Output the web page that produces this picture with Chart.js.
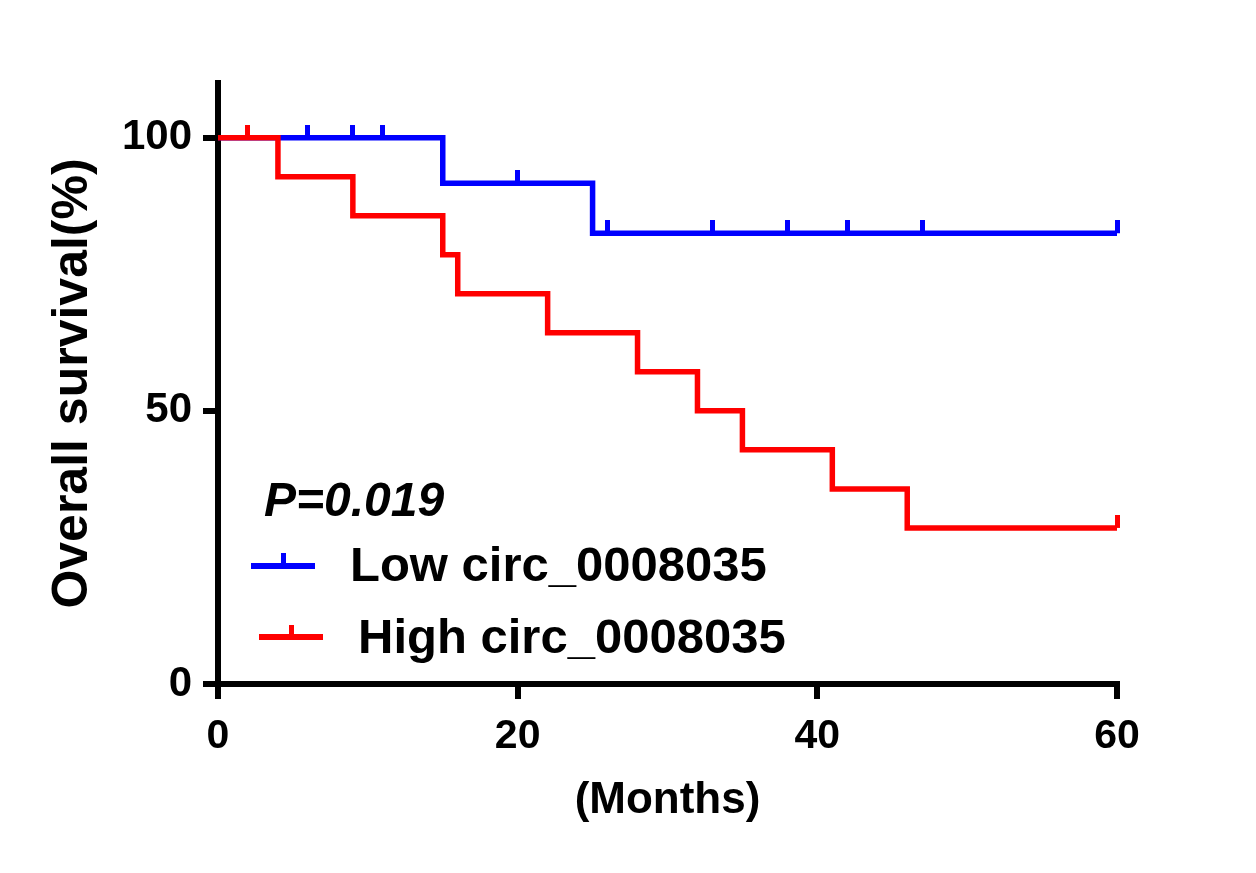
<!DOCTYPE html>
<html>
<head>
<meta charset="utf-8">
<script src="https://cdn.jsdelivr.net/npm/chart.js@4.4.0/dist/chart.umd.min.js"></script>
<style>
html,body{margin:0;padding:0;background:#fff;}
#wrap{position:relative;width:1256px;height:873px;}
.txt{position:absolute;white-space:nowrap;line-height:1;color:#000;
     font-family:"Liberation Sans",Arial,sans-serif;font-weight:bold;}
.sym{position:absolute;}
</style>
</head>
<body>
<div id="wrap">
  <canvas id="myChart" width="1256" height="873"></canvas>
  <div class="txt" id="pval" style="left:264px;top:476px;font-size:48px;font-style:italic;">P=0.019</div>
  <div class="sym" style="left:251px;top:563px;width:64px;height:6px;background:#0000ff;"></div>
  <div class="sym" style="left:281px;top:553px;width:5px;height:12px;background:#0000ff;"></div>
  <div class="txt" id="lowLab" style="left:350px;top:540px;font-size:49px;">Low circ_0008035</div>
  <div class="sym" style="left:259px;top:634px;width:64px;height:6px;background:#ff0000;"></div>
  <div class="sym" style="left:289px;top:625px;width:5px;height:12px;background:#ff0000;"></div>
  <div class="txt" id="highLab" style="left:358px;top:612px;font-size:49px;">High circ_0008035</div>
</div>
<script>
// KM curves (months, % surviving)
const lowTimes=[0,15,25,60]
const lowSurv=[100,91.67,82.5,82.5]
const lowCensor=[6,9,11,20,26,33,38,42,47,60]

const highTimes=[0,4,9,15,16,22,28,32,35,41,46,60]
const highSurv=[100,92.86,85.71,78.57,71.43,64.29,57.14,50,42.86,35.71,28.57,28.57]
const highCensor=[2,60]

const xTicks=[0,20,40,60]
const yTicks=[0,50,100]

const BLUE='#0000ff', RED='#ff0000'
const FONT='"Liberation Sans", Arial, sans-serif'

function survAt(times,surv,t){
    let v=surv[0]
    for(let i=0;i<times.length;i++){
        if(times[i]<=t) v=surv[i]
    }
    return v
}
// little tick used as the censor mark, sitting on top of the curve
function censorMark(color){
    let c=document.createElement('canvas')
    c.width=5; c.height=26
    let g=c.getContext('2d')
    g.fillStyle=color
    g.fillRect(0,0,5,13)
    return c
}
function pts(xs,ys){ return xs.map((x,i)=>({x:x,y:ys[i]})) }

Chart.defaults.font.family=FONT
Chart.defaults.color='#000'

const axisGrid={display:true,drawOnChartArea:false,drawTicks:true,tickLength:15,tickWidth:6,tickColor:'#000',color:'#000',lineWidth:6}
const axisBorder={display:true,color:'#000',width:6}

new Chart(document.getElementById('myChart').getContext('2d'),{
    type:'line',
    data:{
        datasets:[
            {label:'High censor',data:highCensor.map(t=>({x:t,y:survAt(highTimes,highSurv,t)})),
             showLine:false,pointStyle:censorMark(RED),pointRadius:6,order:0,clip:false},
            {label:'Low censor',data:lowCensor.map(t=>({x:t,y:survAt(lowTimes,lowSurv,t)})),
             showLine:false,pointStyle:censorMark(BLUE),pointRadius:6,order:0,clip:false},
            {label:'High circ_0008035',data:pts(highTimes,highSurv),stepped:'before',
             borderColor:RED,borderWidth:5.5,pointRadius:0,borderJoinStyle:'miter',fill:false,order:1,clip:false},
            {label:'Low circ_0008035',data:pts(lowTimes,lowSurv),stepped:'before',
             borderColor:BLUE,borderWidth:5.5,pointRadius:0,borderJoinStyle:'miter',fill:false,order:2,clip:false}
        ]
    },
    options:{
        responsive:false,
        animation:false,
        devicePixelRatio:1,
        layout:{padding:{top:83,right:139,bottom:0,left:0}},
        plugins:{legend:{display:false},tooltip:{enabled:false}},
        scales:{
            x:{
                type:'linear',position:'bottom',min:0,max:60,
                afterBuildTicks:s=>{s.ticks=xTicks.map(v=>({value:v}))},
                afterFit:s=>{s.height=189},
                grid:axisGrid,border:axisBorder,
                ticks:{font:{size:41,weight:'bold'},padding:13,maxRotation:0},
                title:{display:true,text:'(Months)',font:{size:44,weight:'bold'},padding:{top:0,bottom:46}}
            },
            y:{
                type:'linear',position:'left',min:0,max:110,
                afterBuildTicks:s=>{s.ticks=yTicks.map(v=>({value:v}))},
                afterFit:s=>{s.width=218},
                grid:axisGrid,border:axisBorder,
                ticks:{font:{size:42,weight:'bold'},padding:11},
                title:{display:true,text:'Overall survival(%)',font:{size:50,weight:'bold'},padding:{top:43,bottom:0}}
            }
        }
    }
})
</script>
</body>
</html>
